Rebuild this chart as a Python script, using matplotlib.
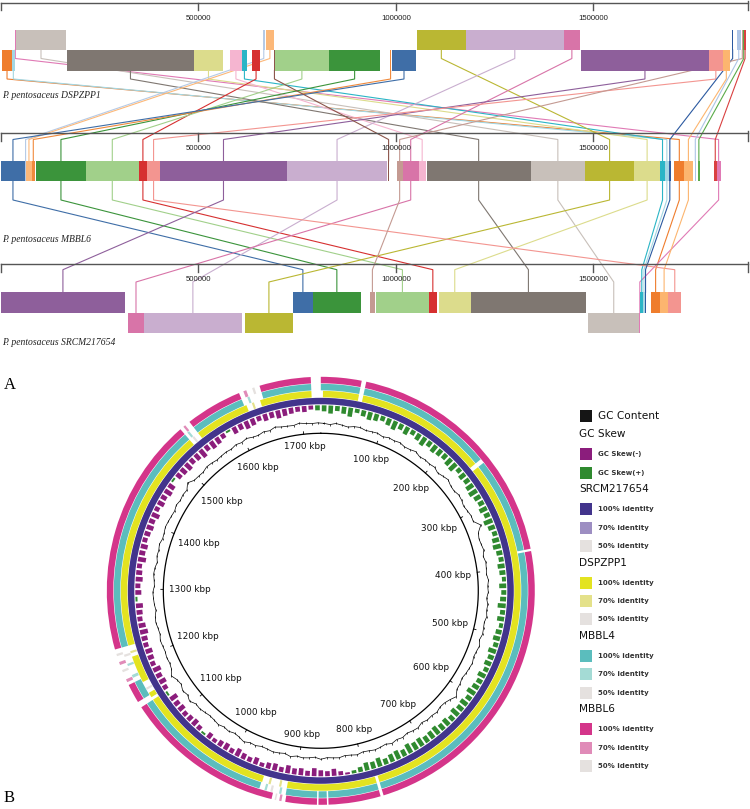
import numpy as np
import matplotlib.pyplot as plt

plt.rcParams['font.family'] = 'DejaVu Sans'

# ---------------- panel A : Mauve alignment ----------------
ruler_ticks = [500000, 1000000, 1500000]
ruler_len = 1891000
genome_names = ['P. pentosaceus DSPZPP1', 'P. pentosaceus MBBL6',
                'P. pentosaceus SRCM217654']

lcb_colors = ['#ef7d2d', '#a3d7e3', '#e07ab5', '#c8c0ba', '#7f7771', '#dcdc8c',
              '#f5b5d0', '#2ab5c6', '#d63030', '#b5cae6', '#fcb879', '#a1d08a',
              '#3b943b', '#f08a3c', '#3f6ea7', '#bab733', '#c9aecf', '#d874a8',
              '#8e5f9b', '#f39590', '#fcb56f', '#2b59a0', '#8c564b', '#c49a92',
              '#5aab4a', '#d94040', '#aec5e6']

# (lcb, start kb, end kb, strand)
dspzpp1_blocks = [
    (0, 3, 28, -1), (1, 28, 35, -1), (2, 35, 38, 1), (3, 38, 165, 1),
    (4, 167, 489, -1), (5, 489, 562, -1), (6, 580, 610, -1), (7, 610, 623, -1),
    (8, 636, 656, -1), (9, 663, 668, 1), (10, 671, 691, 1), (22, 691, 694, -1),
    (11, 694, 830, -1), (12, 830, 961, -1), (13, 985, 988, -1), (14, 990, 1051, -1),
    (15, 1053, 1177, 1), (16, 1177, 1425, 1), (17, 1425, 1466, 1),
    (18, 1468, 1793, -1), (19, 1793, 1827, -1), (20, 1827, 1846, -1),
    (21, 1851, 1854, 1), (26, 1863, 1873, 1), (23, 1875, 1879, 1),
    (24, 1879, 1882, 1), (25, 1882, 1886, 1),
]
mbbl6_blocks = [
    (14, 0, 61, 1), (9, 61, 64, 1), (10, 64, 78, 1), (13, 78, 86, 1),
    (12, 89, 215, 1), (11, 215, 349, 1), (8, 349, 370, 1), (19, 370, 403, 1),
    (18, 403, 724, 1), (16, 724, 978, 1), (22, 980, 983, 1), (23, 1002, 1017, 1),
    (17, 1017, 1058, 1), (6, 1058, 1075, 1), (4, 1078, 1341, 1), (3, 1341, 1479, 1),
    (15, 1479, 1603, 1), (5, 1603, 1669, 1), (7, 1669, 1681, 1), (1, 1681, 1691, 1),
    (21, 1691, 1696, 1), (0, 1705, 1730, 1), (20, 1730, 1751, 1), (26, 1756, 1760, 1),
    (24, 1764, 1770, 1), (25, 1805, 1812, 1), (2, 1812, 1822, 1),
]
srcm_blocks = [
    (18, 0, 314, 1), (17, 322, 362, -1), (16, 362, 610, -1), (15, 618, 739, -1),
    (14, 739, 790, 1), (12, 790, 911, 1), (23, 934, 947, 1), (11, 949, 1084, 1),
    (8, 1084, 1103, 1), (5, 1108, 1190, 1), (4, 1190, 1481, 1), (3, 1487, 1616, -1),
    (2, 1616, 1619, -1), (7, 1619, 1626, 1), (1, 1626, 1630, 1), (21, 1630, 1634, 1),
    (0, 1646, 1669, 1), (20, 1669, 1689, 1), (19, 1689, 1723, 1),
]

# ---------------- panel B : BRIG ring ----------------
brig_len = 1730  # kb
kbp_labels = [100, 200, 300, 400, 500, 600, 700, 800, 900, 1000, 1100, 1200,
              1300, 1400, 1500, 1600, 1700]

# GC skew per 10 kb window (+ green, - purple)
gc_skew = [6, 8, 5, 7, 9, 4, 6, 8, 7, 5,
           7, 9, 6, 8, 5, 7, 9, 6, 8, 7,
           6, 8, 9, 5, 7, 6, 8, 9, 7, 6,
           8, 6, 9, 7, 5, 7, 8, 6, 5, 7,
           6, 4, 7, 5, 6, 8, 5, 7, 4, 6,
           7, 5, 8, 6, 7, 5, 8, 6, 7, 9,
           6, 8, 7, 9, 6, 8, 7, 9, 8, 7,
           9, 8, 10, 7, 9, 8, 6, 9, 7, 8,
           5, 3, -2, -4, -7, -5, -6, -8, -5, -7,
           -6, -8, -5, -7, -6, -4, -7, -5, -6, -8,
           -5, -7, -6, -4, -6, 2, -5, -7, -6, -5,
           -7, -6, -8, 2, -5, -7, -6, -8, -5, -6,
           -7, -5, -6, -8, -7, -5, -6, -7, 2, -6,
           -5, -7, -6, -5, -8, -6, -7, -5, -6, -7,
           -6, -8, -5, -7, -6, -8, -7, 2, -6, -7,
           -8, -6, -7, -9, -6, -8, -7, -5, 2, -7,
           -6, -8, -7, -5, -7, -6, -8, -7, -6, -5,
           -6, -4, 5]

# GC content deviation per 10 kb window
gc_content = [0.5, -0.5, 1, 0, -1, 0.5, 1, -0.5, 0, 0.5,
              -1, 0.5, 0, 1, -0.5, 0, 1.5, -0.5, 0.5, 0,
              1, -1, 0.5, 2, 0, -0.5, 1, 0.5, -1, 0,
              1, 0.5, 6, 1, -0.5, 0, 1, -1, 0.5, 0,
              -0.5, 1, 0, 0.5, -1, 0.5, 0, 1, -0.5, 0,
              0.5, -1, 1, 0, -0.5, 1, 0.5, 0, -1, 0.5,
              1, 5, 2, 0, -0.5, 1, 0, 0.5, -1, 1,
              0.5, -0.5, 1, 0, 1.5, -0.5, 0.5, 1, 0, -0.5,
              1, 0, -0.5, 1, 0.5, 0, 1.5, -0.5, 0.5, 1,
              0, 1.5, -0.5, 0.5, 1, 0, -0.5, 1, 0.5, 2.5,
              0.5, -0.5, 1, 0, 1.5, 0.5, 0, 1, 2, 1.5,
              4.5, 2, 3.5, 1, 2, 5, 1.5, 0.5, 1, 0,
              0.5, 1, -0.5, 0, 1, 0.5, -1, 0, 0.5, 1,
              -0.5, 0, 1, 0.5, -1, 0.5, 0, 1, -0.5, 0,
              1, 0.5, 0, -0.5, 1, 0, 1, 0.5, 4.5, 1,
              0.5, 0, 1.5, 1, 0, 0.5, 1, 0.5, 2, 1,
              2.5, 1, 0.5, 2, 1, 3, 1.5, 1, 0.5, 2,
              1, 0.5, 1]

# ring gaps (kb) and weak-identity fragments (start, end, identity)
srcm_gaps = []
dspzpp1_gaps = [(0, 3), (53, 59), (243, 249), (783, 787), (912, 947), (1139, 1143),
                (1150, 1167), (1205, 1221), (1533, 1548), (1625, 1645), (1717, 1730)]
mbbl4_gaps = [(53, 59), (243, 249), (378, 381), (783, 787), (855, 857), (868, 870),
              (912, 948), (1139, 1147), (1172, 1221), (1533, 1548), (1622, 1650),
              (1717, 1730)]
mbbl6_gaps = [(53, 59), (378, 381), (783, 787), (855, 857), (868, 870), (911, 929),
              (1139, 1147), (1172, 1221), (1533, 1548), (1622, 1650), (1717, 1730)]
dspzpp1_frag = [(1210, 1213, 70), (1155, 1158, 50), (1538, 1541, 50), (1633, 1636, 70),
                (920, 923, 70), (935, 938, 70)]
mbbl4_frag = [(1178, 1182, 70), (1195, 1198, 70), (1208, 1211, 50), (1537, 1540, 70),
              (1630, 1633, 70), (918, 921, 70), (930, 933, 50), (938, 941, 70)]
mbbl6_frag = [(1176, 1180, 70), (1190, 1193, 50), (1200, 1204, 70), (1212, 1215, 50),
              (1538, 1541, 70), (1628, 1632, 70), (1640, 1643, 50), (916, 919, 70),
              (923, 925, 50)]

legend_groups = [
    ('SRCM217654', ['#42348c', '#9d8ec2', '#e5e1df']),
    ('DSPZPP1', ['#e3e320', '#e4e18a', '#e5e1df']),
    ('MBBL4', ['#5bbdbd', '#a4dbd5', '#e5e1df']),
    ('MBBL6', ['#d4358a', '#e08bb8', '#e5e1df']),
]
identity_labels = ['100% identity', '70% identity', '50% identity']
skew_colors = {'-': '#8b1d7c', '+': '#2f8a2f'}

W, H = 750, 809
fig = plt.figure(figsize=(W / 100, H / 100), dpi=100)

# background axes in pixel units (labels, legend)
bg = fig.add_axes([0, 0, 1, 1])
bg.set_xlim(0, W)
bg.set_ylim(H, 0)
bg.axis('off')

# ---- top alignment ----
top_h = 345
ax = fig.add_axes([0, 1 - top_h / H, 1, top_h / H])
px_per_bp = 0.000395
ax.set_xlim(-0.9 / px_per_bp, (W - 0.9) / px_per_bp)
ax.set_ylim(top_h, 0)
ax.axis('off')

ruler_y = [3, 133.3, 264.3]
rows = [{1: (29.5, 50), -1: (50, 70.5)},
        {1: (160.7, 181.3), -1: (160.7, 181.3)},
        {1: (292.3, 313), -1: (313, 333.3)}]
entry = [None, {1: (139.5, 160.7), -1: (139.5, 160.7)},
         {1: (269.7, 292.3), -1: (282, 313)}]
exit_ = [{1: (50, 58.5), -1: (70.5, 79)}, {1: (181.3, 200), -1: (181.3, 200)}, None]
label_y = [95, 239.3, 342.3]

tracks = [dspzpp1_blocks, mbbl6_blocks, srcm_blocks]
centres = []
for blocks in tracks:
    centres.append({b[0]: ((b[1] + b[2]) / 2 * 1000, b[3]) for b in blocks})

# connectors
for lcb, col in enumerate(lcb_colors):
    for i in range(2):
        if lcb in centres[i] and lcb in centres[i + 1]:
            x1, s1 = centres[i][lcb]
            x2, s2 = centres[i + 1][lcb]
            ya, yb = exit_[i][s1]
            yc, yd = entry[i + 1][s2]
            ax.plot([x1, x1, x2, x2], [ya, yb, yc, yd], color=col, lw=0.8,
                    zorder=1, solid_joinstyle='miter')

for i, blocks in enumerate(tracks):
    ry = ruler_y[i]
    ax.plot([0, ruler_len], [ry, ry], color='#555555', lw=1.0, zorder=3)
    for t in [0] + ruler_ticks + [ruler_len]:
        ax.plot([t, t], [ry - (2.5 if t == ruler_len else 0), ry + 7.5],
                color='#555555', lw=1.0, zorder=3)
    for t in ruler_ticks:
        ax.text(t, ry + 15, str(t), ha='center', va='center', fontsize=5.6,
                family='Liberation Sans', color='#222222')
    for lcb, s, e, strand in blocks:
        y0, y1 = rows[i][strand]
        ax.bar(s * 1000, y1 - y0, width=(e - s) * 1000, bottom=y0, align='edge',
               color=lcb_colors[lcb], lw=0, zorder=2)
    bg.text(2, label_y[i], genome_names[i], ha='left', va='center', fontsize=6.9,
            family='Liberation Serif', style='italic', color='#222222')

bg.text(4, 385, 'A', fontsize=12, family='Liberation Serif', va='center', ha='left')
bg.text(4, 798, 'B', fontsize=12, family='Liberation Serif', va='center', ha='left')

# ---- BRIG circle ----
cx, cy, R = 320.8, 590.8, 216
axc = fig.add_axes([(cx - R) / W, (H - cy - R) / H, 2 * R / W, 2 * R / H],
                   projection='polar')
axc.set_theta_zero_location('N')
axc.set_theta_direction(-1)
axc.set_ylim(0, R)
axc.set_axis_off()


def th(kb):
    return np.asarray(kb, dtype=float) / brig_len * 2 * np.pi


rings = [
    (186.5, legend_groups[0][1], srcm_gaps, []),
    (193.5, legend_groups[1][1], dspzpp1_gaps, dspzpp1_frag),
    (200.5, legend_groups[2][1], mbbl4_gaps, mbbl4_frag),
    (207.5, legend_groups[3][1], mbbl6_gaps, mbbl6_frag),
]
ring_w = 6.5
for r0, cols, gaps, frags in rings:
    pos = 0
    segs = []
    for g0, g1 in sorted(gaps):
        if g0 > pos:
            segs.append((pos, g0))
        pos = max(pos, g1)
    if pos < brig_len:
        segs.append((pos, brig_len))
    for s, e in segs:
        axc.bar(th(s), ring_w, width=th(e - s), bottom=r0, align='edge',
                color=cols[0], lw=0)
    for s, e, lev in frags:
        axc.bar(th(s), ring_w, width=th(e - s), bottom=r0, align='edge',
                color=cols[1] if lev == 70 else cols[2], lw=0)

# GC skew
win = 10
skew_base = 185.5
for i, v in enumerate(gc_skew):
    axc.bar(th(i * win + win / 2), abs(v), width=th(win) * 0.7,
            bottom=skew_base - abs(v), color=skew_colors['+' if v > 0 else '-'],
            lw=0)

# GC content
gc_t = th(np.arange(len(gc_content)) * win + win / 2)
gc_r = 167 + np.asarray(gc_content)
axc.plot(np.append(gc_t, gc_t[0]), np.append(gc_r, gc_r[0]), color='black', lw=0.5)
axc.plot(gc_t, gc_r, ls='none', marker='|', ms=2, mew=0.5, color='black')

# inner scale circle
circ_t = np.linspace(0, 2 * np.pi, 500)
axc.plot(circ_t, np.full_like(circ_t, 157.5), color='black', lw=0.9)
for k in kbp_labels:
    t = th(k)
    axc.plot([t, t], [157.5, 160], color='black', lw=0.6)
    lab = f'{k} kbp'
    w = len(lab) * 5.1
    off = abs(np.sin(t)) * w / 2 + abs(np.cos(t)) * 4.5
    axc.text(t, 157.5 - 6 - off, lab, ha='center', va='center', fontsize=6.4,
             color='#111111')

# ---- legend ----
lx, tx = 580, 598.3
y = 416
step = 18.33


def square(yc, col):
    bg.add_patch(plt.Rectangle((lx, yc - 6), 12, 12, color=col, lw=0))


square(y, '#151515')
bg.text(tx, y, 'GC Content', fontsize=7.6, va='center', color='#111111')
y += step
bg.text(579.3, y, 'GC Skew', fontsize=7.6, va='center', color='#111111')
for lab, key in [('GC Skew(-)', '-'), ('GC Skew(+)', '+')]:
    y += step
    square(y + 1.6, skew_colors[key])
    bg.text(tx, y + 1.6, lab, fontsize=5, fontweight='bold', va='center',
            color='#333333')
for name, cols in legend_groups:
    y += step
    bg.text(579.3, y, name, fontsize=7.6, va='center', color='#111111')
    for lab, col in zip(identity_labels, cols):
        y += step
        square(y + 1.6, col)
        bg.text(tx, y + 1.6, lab, fontsize=5, fontweight='bold', va='center',
                color='#333333')

fig.savefig('out.png', dpi=100)
